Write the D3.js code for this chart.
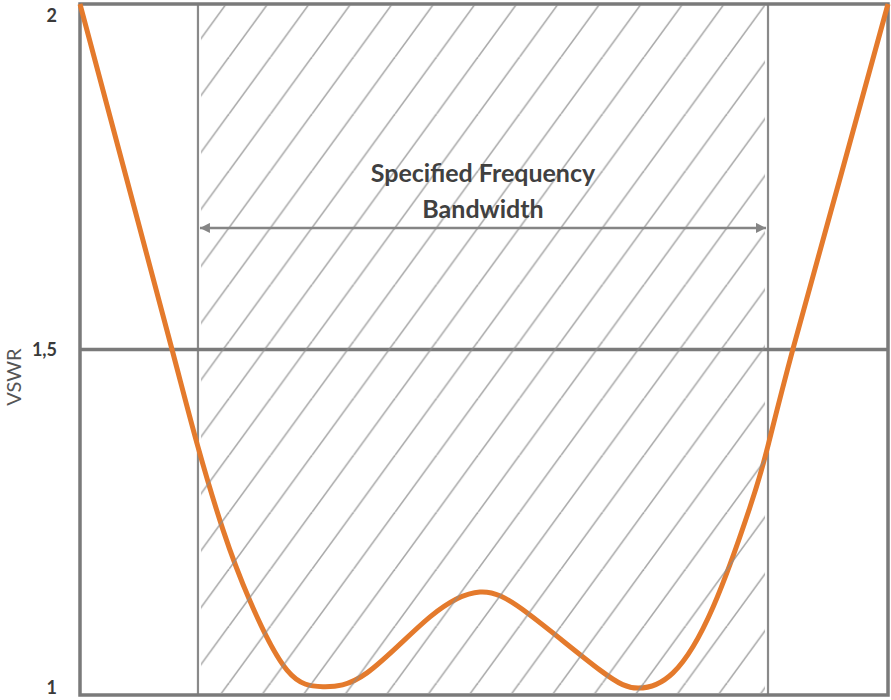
<!DOCTYPE html>
<html>
<head>
<meta charset="utf-8">
<script src="https://cdn.jsdelivr.net/npm/d3@7"></script>
<style>
  html, body { margin: 0; padding: 0; background: #fff; }
  svg { display: block; }
</style>
</head>
<body>
<svg id="chart" width="891" height="700"></svg>
<script>
// ---- data ----
const freq = [0, 5.70, 11.39, 14.60, 17.70, 21.04, 25.62, 30.07, 35.52, 43.32, 49.50, 55.32, 64.36, 69.06, 73.39, 78.34, 82.92, 85.02, 88.24, 94.12, 100];
const vswr = [2.000, 1.750, 1.500, 1.359, 1.239, 1.136, 1.036, 1.012, 1.032, 1.113, 1.149, 1.119, 1.036, 1.010, 1.032, 1.127, 1.272, 1.355, 1.501, 1.750, 2.000];
const yTicks = [1, 1.5, 2];
const yLabel = "VSWR";
const bandEdges = [14.6, 85.15];
const limitVSWR = 1.5;
const annotationLines = ["Specified Frequency", "Bandwidth"];
const annotationVSWR = [1.752, 1.700];
const arrowVSWR = 1.676;

// ---- layout ----
const x = d3.scaleLinear().domain([0, 100]).range([80, 888]);
const y = d3.scaleLinear().domain([1, 2]).range([695, 4]);

const svg = d3.select("#chart");
const defs = svg.append("defs");

// hatch pattern
const hw = 41.5, hh = 56.9;
const pat = defs.append("pattern")
  .attr("id", "hatch").attr("patternUnits", "userSpaceOnUse")
  .attr("x", 21.6).attr("y", 0).attr("width", hw).attr("height", hh);
[0, 1, 2].forEach(c => {
  pat.append("line")
    .attr("x1", (c - 1) * hw).attr("y1", hh)
    .attr("x2", c * hw).attr("y2", 0)
    .attr("stroke", "#8c8c8c").attr("stroke-width", 1.6);
});

// markers
["start", "end"].forEach(k => {
  defs.append("marker")
    .attr("id", "arr-" + k)
    .attr("viewBox", "0 0 10 10")
    .attr("refX", k === "end" ? 10 : 0).attr("refY", 5)
    .attr("markerWidth", 12).attr("markerHeight", 10)
    .attr("markerUnits", "userSpaceOnUse")
    .attr("orient", "auto")
    .append("path")
    .attr("d", k === "end" ? "M0,0 L10,5 L0,10 Z" : "M10,0 L0,5 L10,10 Z")
    .attr("fill", "#858585");
});

// band vertical lines
svg.selectAll("line.band").data(bandEdges).join("line")
  .attr("class", "band")
  .attr("x1", d => x(d)).attr("x2", d => x(d))
  .attr("y1", y(2)).attr("y2", y(1))
  .attr("stroke", "#8a8a8a").attr("stroke-width", 2.2);

// limit line
svg.append("line")
  .attr("x1", x(0)).attr("x2", x(100))
  .attr("y1", y(limitVSWR)).attr("y2", y(limitVSWR))
  .attr("stroke", "#7a7a7a").attr("stroke-width", 3.5);

// frame
svg.append("rect")
  .attr("x", x(0)).attr("y", y(2))
  .attr("width", x(100) - x(0)).attr("height", y(1) - y(2))
  .attr("fill", "none").attr("stroke", "#7a7a7a").attr("stroke-width", 3.5);

// curve
const line = d3.line().x((d, i) => x(freq[i])).y(d => y(d)).curve(d3.curveNatural);
svg.append("path")
  .attr("d", line(vswr))
  .attr("fill", "none")
  .attr("stroke", "#e47a2c")
  .attr("stroke-width", 5)
  .attr("stroke-linejoin", "round");

// hatch on top (semi transparent)
svg.append("rect")
  .attr("x", x(bandEdges[0]) + 3).attr("y", y(2) + 1)
  .attr("width", x(bandEdges[1]) - x(bandEdges[0]) - 6)
  .attr("height", y(1) - y(2) - 3)
  .attr("fill", "url(#hatch)")
  .attr("opacity", 0.75);

// arrow
svg.append("line")
  .attr("x1", x(bandEdges[0]) + 2).attr("x2", x(bandEdges[1]) - 2)
  .attr("y1", y(arrowVSWR)).attr("y2", y(arrowVSWR))
  .attr("stroke", "#858585").attr("stroke-width", 2.5)
  .attr("marker-start", "url(#arr-start)")
  .attr("marker-end", "url(#arr-end)");

// annotation
svg.selectAll("text.ann").data(annotationLines).join("text")
  .attr("class", "ann")
  .attr("x", (x(bandEdges[0]) + x(bandEdges[1])) / 2)
  .attr("y", (d, i) => y(annotationVSWR[i]))
  .attr("text-anchor", "middle")
  .attr("dominant-baseline", "middle")
  .attr("font-family", "Lato, 'Open Sans', sans-serif")
  .attr("font-weight", "bold")
  .attr("font-size", 25)
  .attr("fill", "#404040")
  .text(d => d);

// y axis labels
const axis = d3.axisLeft(y).tickValues(yTicks).tickSize(0).tickPadding(23)
  .tickFormat(d => d3.format("")(d).replace(".", ","));
const gA = svg.append("g").attr("transform", `translate(${x(0)},0)`).call(axis);
gA.select(".domain").remove();
gA.selectAll("text")
  .attr("font-family", "Lato, 'Open Sans', sans-serif")
  .attr("font-weight", "bold")
  .attr("font-size", 18)
  .attr("fill", "#3a3a3a")
  .attr("dy", d => d === 2 ? "0.95em" : d === 1 ? "-0.1em" : "0.32em");

svg.append("text")
  .attr("transform", `translate(21,${y(1.46)}) rotate(-90)`)
  .attr("text-anchor", "middle")
  .attr("font-family", "Lato, 'Open Sans', sans-serif")
  .attr("font-size", 20)
  .attr("fill", "#555")
  .text(yLabel);
</script>
</body>
</html>
